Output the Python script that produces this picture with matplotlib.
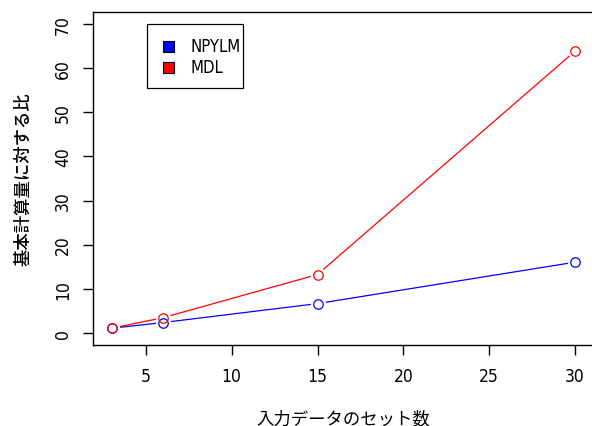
import matplotlib
matplotlib.use("Agg")
import matplotlib.pyplot as plt
from matplotlib import font_manager
from matplotlib.patches import Rectangle

# Data
x_sets = [3, 6, 15, 30]
npylm = [1.0, 2.3, 6.6, 16.0]
mdl = [1.0, 3.4, 13.2, 63.9]
series_names = ["NPYLM", "MDL"]
series_colors = ["#0000FF", "#FF0000"]
xticks = [5, 10, 15, 20, 25, 30]
yticks = [0, 10, 20, 30, 40, 50, 60, 70]
xlabel = "入力データのセット数"
ylabel = "基本計算量に対する比"

# find a condensed face if one exists
cand = None
for f in font_manager.fontManager.ttflist:
    fn = f.fname.lower()
    if ("narrow" in fn or "condensed" in fn) and "bold" not in fn and "oblique" not in fn and "italic" not in fn:
        if cand is None or "liberation" in fn:
            cand = f.fname
fp_num = font_manager.FontProperties(fname=cand) if cand else font_manager.FontProperties(family="Liberation Sans")

plt.rcParams['font.family'] = ['Liberation Sans', 'Noto Sans CJK JP', 'DejaVu Sans']

fig = plt.figure(figsize=(5.92, 4.27), dpi=100)
ax = fig.add_axes([93/592, 81/427, 500.5/592, 333/427])

for ys, c in zip([npylm, mdl], series_colors):
    ax.plot(x_sets, ys, color=c, lw=0.9, zorder=2)
for ys, c in zip([npylm, mdl], series_colors):
    ax.plot(x_sets, ys, ls='none', marker='o', ms=11, mfc='white', mec='white', mew=0, zorder=3)
for ys, c in zip([npylm, mdl], series_colors):
    ax.plot(x_sets, ys, ls='none', marker='o', ms=6.8, mfc='none', mec=c, mew=0.9, zorder=4)

ax.set_xlim(1.92, 31.08)
ax.set_ylim(-2.8, 72.8)
ax.set_xticks(xticks)
ax.set_yticks(yticks)
ax.tick_params(direction='out', length=7, width=1)
ax.tick_params(axis='x', pad=9)
ax.tick_params(axis='y', pad=8)
for lab in ax.get_xticklabels() + ax.get_yticklabels():
    lab.set_fontproperties(fp_num)
    lab.set_fontsize(12.5)
for lab in ax.get_yticklabels():
    lab.set_rotation(90)
    lab.set_va('center')
for s in ax.spines.values():
    s.set_linewidth(1)
ax.set_xlabel(xlabel, fontsize=12.5, family=['Noto Sans CJK JP'], labelpad=17.5)
ax.set_ylabel(ylabel, fontsize=12.5, family=['Noto Sans CJK JP'], labelpad=16, fontweight='medium')

# Legend box (R style)
lx0, ly0, lw, lh = 147, 427-89, 96, 64
fig.patches.append(Rectangle((lx0/592, ly0/427), lw/592, lh/427, transform=fig.transFigure,
                             fill=True, fc='white', ec='black', lw=0.9, zorder=5))
for i, (n, c) in enumerate(zip(series_names, series_colors)):
    yc = 427 - (47 + i*21)
    fig.patches.append(Rectangle((163/592, (yc-5.5)/427), 11/592, 11/427, transform=fig.transFigure,
                                 fc=c, ec='black', lw=0.8, zorder=6))
    t = fig.text(190/592, yc/427, n, va='center', ha='left', zorder=7)
    t.set_fontproperties(fp_num)
    t.set_fontsize(12)

fig.savefig("out.png", dpi=100)
